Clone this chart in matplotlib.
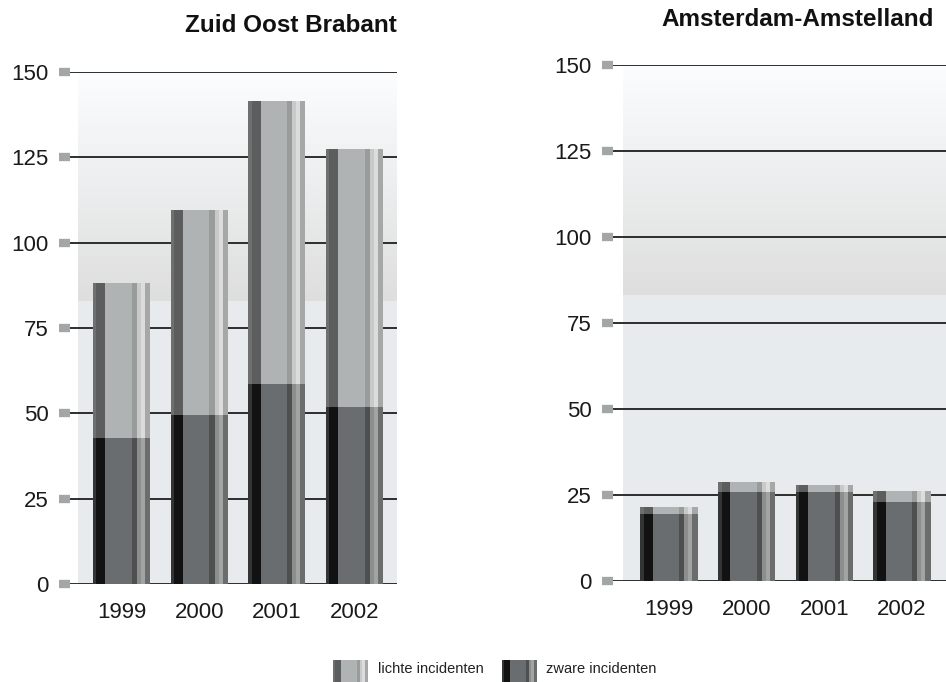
import numpy as np
import matplotlib
matplotlib.use("Agg")
import matplotlib.pyplot as plt
from matplotlib.colors import LinearSegmentedColormap

plt.rcParams['font.family'] = ['Liberation Sans', 'DejaVu Sans']

# ---- data ----
years = ['1999', '2000', '2001', '2002']
zob_zwaar = [42.7, 49.5, 58.5, 52.0]
zob_lichte = [45.6, 60.1, 83.1, 75.5]
ams_zwaar = [19.5, 25.8, 25.9, 23.1]
ams_lichte = [2.1, 3.1, 2.0, 3.2]
yticks = [0, 25, 50, 75, 100, 125, 150]
titles = ['Zuid Oost Brabant', 'Amsterdam-Amstelland']
legend_labels = ['lichte incidenten', 'zware incidenten']

# stripe profiles (fraction start, fraction end, colour)
light_profile = [(0.00, 0.06, '#6e7070'), (0.06, 0.215, '#5c5e5e'),
                 (0.215, 0.68, '#b0b3b3'), (0.68, 0.77, '#9a9c9c'),
                 (0.77, 0.84, '#c8caca'), (0.84, 0.91, '#dcdcdc'),
                 (0.91, 1.00, '#a6a8a8')]
dark_profile = [(0.00, 0.06, '#333434'), (0.06, 0.215, '#121212'),
                (0.215, 0.68, '#6a6d6f'), (0.68, 0.77, '#4e5050'),
                (0.77, 0.84, '#8c8e8e'), (0.84, 0.91, '#a2a4a4'),
                (0.91, 1.00, '#6b6d6d')]

W, H = 946, 682
fig = plt.figure(figsize=(W / 100, H / 100), dpi=100)

grad_cmap = LinearSegmentedColormap.from_list('bg', ['#dedede', '#fbfdfe'])


def striped_bar(ax, x, heights, bottoms, width, profile):
    for f0, f1, c in profile:
        ax.bar(x - width / 2 + f0 * width, heights, width=(f1 - f0) * width,
               bottom=bottoms, align='edge', color=c, linewidth=0, zorder=3)


def panel(rect, xlim, bg_x0, zwaar, lichte, title, title_xy):
    ax = fig.add_axes(rect)
    ax.set_xlim(*xlim)
    ax.set_ylim(0, 150)
    for s in ax.spines.values():
        s.set_visible(False)
    # background
    ax.axhspan(0, 83, xmin=(bg_x0 - xlim[0]) / (xlim[1] - xlim[0]), xmax=1,
               color='#e8ebee', lw=0, zorder=0)
    grad = np.linspace(0, 1, 256).reshape(-1, 1)
    ax.imshow(grad, extent=[bg_x0, xlim[1], 83, 150], origin='lower',
              aspect='auto', cmap=grad_cmap, zorder=0)
    ax.set_xlim(*xlim)
    ax.set_ylim(0, 150)
    for t in yticks:
        ax.axhline(t, color='#1e1e1e', lw=1.3, zorder=1)
    x = np.arange(len(years))
    w = 0.735
    striped_bar(ax, x, zwaar, np.zeros(len(x)), w, dark_profile)
    striped_bar(ax, x, lichte, np.array(zwaar), w, light_profile)
    ax.set_yticks(yticks)
    ax.set_yticklabels([str(t) for t in yticks])
    ax.set_xticks(x)
    ax.set_xticklabels(years)
    ax.tick_params(axis='y', length=8, width=6, color='#a3a6a6', pad=7.5,
                   labelsize=16, labelcolor='#1a1a1a')
    ax.tick_params(axis='x', length=0, pad=13, labelsize=16,
                   labelcolor='#1a1a1a')
    fig.text(title_xy[0] / W, 1 - title_xy[1] / H, title, ha='right',
             va='center', fontsize=17.5, fontweight='bold', color='#111111')
    return ax


panel([70 / W, (H - 584) / H, 327 / W, 512 / H], (-0.663, 3.547), -0.56,
      zob_zwaar, zob_lichte, titles[0], (397, 26))
panel([613 / W, (H - 581) / H, 333 / W, 516 / H], (-0.721, 3.566), -0.592,
      ams_zwaar, ams_lichte, titles[1], (934, 19))

# legend
for (x0, profile, label, tx) in [(333, light_profile, legend_labels[0], 378),
                                 (502, dark_profile, legend_labels[1], 546)]:
    lax = fig.add_axes([x0 / W, 0, 35 / W, 22 / H])
    lax.set_xlim(0, 1)
    lax.set_ylim(0, 1)
    lax.axis('off')
    striped_bar(lax, np.array([0.5]), [1], [0], 1.0, profile)
    fig.text(tx / W, 1 - 669 / H, label, ha='left', va='center',
             fontsize=10.5, color='#222222')

fig.savefig('out.png', dpi=100)
